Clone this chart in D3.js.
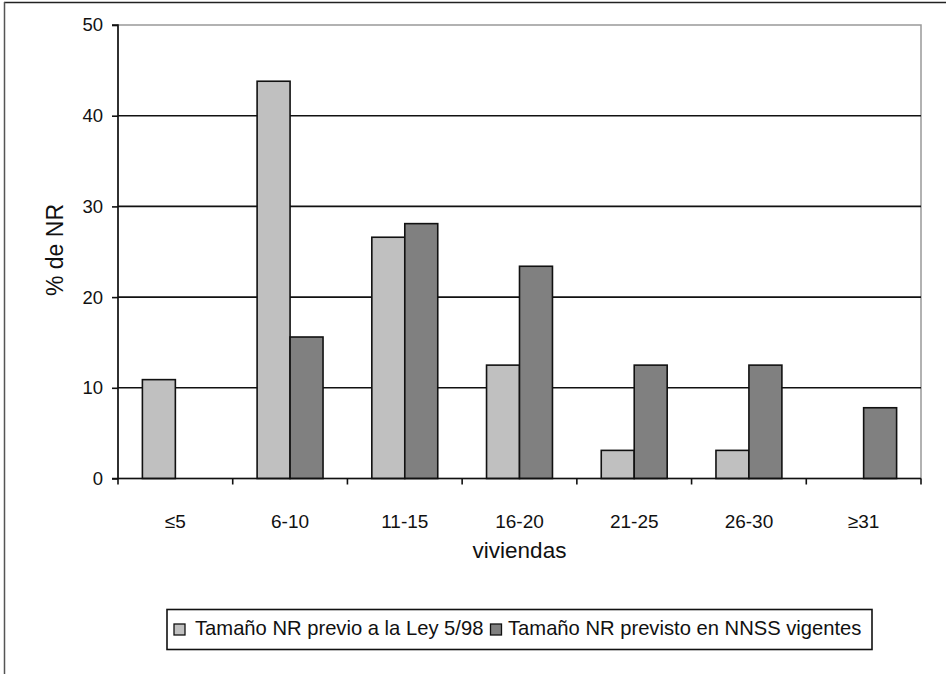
<!DOCTYPE html>
<html>
<head>
<meta charset="utf-8">
<script src="https://cdn.jsdelivr.net/npm/d3@7"></script>
<style>
  html, body { margin: 0; padding: 0; background: #fff; }
  svg { display: block; font-family: "Liberation Sans", Arial, sans-serif; }
</style>
</head>
<body>
<svg id="chart" width="946" height="674"></svg>
<script>
const categories = ["≤5", "6-10", "11-15", "16-20", "21-25", "26-30", "≥31"];
const seriesNames = ["Tamaño NR previo a la Ley 5/98", "Tamaño NR previsto en NNSS vigentes"];
const previo = [10.9, 43.8, 26.6, 12.5, 3.1, 3.1, 0];
const previsto = [0, 15.6, 28.1, 23.4, 12.5, 12.5, 7.8];
const yTicks = [0, 10, 20, 30, 40, 50];
const colors = ["#c0c0c0", "#808080"];

(function () {
const svg = d3.select("#chart");
const pLeft = 118, pRight = 921, pTop = 25, pBottom = 478.5;

// outer frame (top and left visible)
svg.append("line").attr("x1", 4).attr("x2", 946).attr("y1", 2.5).attr("y2", 2.5).attr("stroke", "#222").attr("stroke-width", 1.5);
svg.append("line").attr("x1", 4.5).attr("x2", 4.5).attr("y1", 2).attr("y2", 674).attr("stroke", "#555").attr("stroke-width", 1.5);

const x = d3.scaleBand().domain(categories).range([pLeft, pRight]);
const y = d3.scaleLinear().domain([0, 50]).range([pBottom, pTop]);
const series = [previo, previsto];

// plot border (gray)
svg.append("rect").attr("x", pLeft).attr("y", pTop).attr("width", pRight - pLeft).attr("height", pBottom - pTop)
  .attr("fill", "none").attr("stroke", "#999").attr("stroke-width", 1.5);

// gridlines
svg.append("g").selectAll("line").data(yTicks.filter(t => t > 0 && t < 50)).join("line")
  .attr("x1", pLeft).attr("x2", pRight).attr("y1", d => y(d)).attr("y2", d => y(d))
  .attr("stroke", "#111").attr("stroke-width", 1.6);

// bars
const bw = x.bandwidth();
const barW = bw / 3.48;
const inner = d3.scaleBand().domain([0, 1]).range([0, barW * 2]);
series.forEach((vals, si) => {
  svg.append("g").selectAll("rect").data(categories.map((c, i) => ({c, v: vals[i]})).filter(d => d.v > 0)).join("rect")
    .attr("x", d => x(d.c) + (bw - barW * 2) / 2 + inner(si))
    .attr("y", d => y(d.v))
    .attr("width", inner.bandwidth())
    .attr("height", d => y(0) - y(d.v))
    .attr("fill", colors[si]).attr("stroke", "#111").attr("stroke-width", 1.6);
});

// y axis
const yAxis = d3.axisLeft(y).tickValues(yTicks).tickSize(6).tickPadding(9);
const gy = svg.append("g").attr("transform", `translate(${pLeft},0)`).call(yAxis);
gy.select(".domain").attr("stroke", "#111").attr("stroke-width", 1.6).attr("d", `M-6,${pTop}H0V${pBottom}H-6`);
gy.selectAll(".tick line").attr("stroke", "#111").attr("stroke-width", 1.6);
gy.selectAll(".tick text").attr("font-size", 18.5).attr("fill", "#111").attr("font-family", "Liberation Sans, Arial, sans-serif");

// x axis
const xAxis = d3.axisBottom(x).tickSize(0).tickPadding(36);
const gx = svg.append("g").attr("transform", `translate(0,${pBottom})`).call(xAxis);
gx.select(".domain").attr("stroke", "#111").attr("stroke-width", 1.6).attr("d", `M${pLeft},0H${pRight}`);
gx.selectAll(".tick text").attr("font-size", 19).attr("fill", "#111").attr("font-family", "Liberation Sans, Arial, sans-serif");
// category boundary ticks
svg.append("g").selectAll("line").data(d3.range(categories.length + 1)).join("line")
  .attr("x1", i => pLeft + i * bw).attr("x2", i => pLeft + i * bw)
  .attr("y1", pBottom).attr("y2", pBottom + 6)
  .attr("stroke", "#111").attr("stroke-width", 1.6);

// axis titles
svg.append("text").attr("x", (pLeft + pRight) / 2).attr("y", 558).attr("text-anchor", "middle")
  .attr("font-size", 22.5).attr("fill", "#111").text("viviendas");
svg.append("text").attr("transform", `translate(63,250) rotate(-90)`).attr("text-anchor", "middle")
  .attr("font-size", 23).attr("fill", "#111").text("% de NR");

// legend
const lg = svg.append("g");
lg.append("rect").attr("x", 167).attr("y", 609.5).attr("width", 705).attr("height", 40)
  .attr("fill", "#fff").attr("stroke", "#111").attr("stroke-width", 1.6);
const legendX = [174, 490.5];
const legendTextX = [195, 508];
seriesNames.forEach((name, i) => {
  lg.append("rect").attr("x", legendX[i]).attr("y", 624).attr("width", 11).attr("height", 11)
    .attr("fill", colors[i]).attr("stroke", "#111").attr("stroke-width", 1.3);
  lg.append("text").attr("x", legendTextX[i]).attr("y", 634.5).attr("font-size", 20.2).attr("fill", "#111").text(name);
});
})();
</script>
</body>
</html>
